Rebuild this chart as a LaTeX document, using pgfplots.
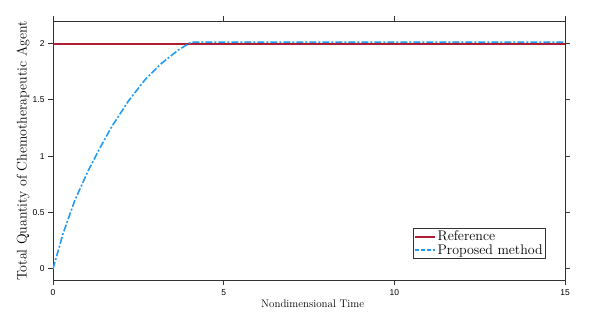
\documentclass[border=0pt]{standalone}
\usepackage{fontspec}
\setsansfont{Liberation Sans}
\usepackage{pgfplots}
\pgfplotsset{compat=1.18}
\definecolor{myred}{RGB}{175,30,50}
\definecolor{myblue}{RGB}{35,155,245}
\begin{document}
\begin{tikzpicture}
\path[use as bounding box] (-53bp,-37bp) rectangle (536bp,280bp);
\begin{axis}[
  scale only axis,
  width=512bp, height=259bp,
  xmin=0, xmax=15, ymin=-0.1, ymax=2.2,
  xtick={0,5,10,15}, ytick={0,0.5,1,1.5,2},
  yticklabels={0,0.5,1,1.5,2},
  tick align=outside,
  major tick length=5bp,
  axis line style={draw=black!80, line width=0.8bp},
  every tick/.style={draw=black!80, line width=0.8bp},
  /pgf/number format/assume math mode=true,
  tick label style={font=\sffamily\fontsize{8.5}{9}\selectfont},
  xticklabel style={yshift=-1bp},
  xlabel={Nondimensional Time},
  ylabel={Total Quantity of Chemotherapeutic Agent},
  xlabel style={font=\fontsize{11}{12}\selectfont, at={(axis description cs:0.507,-0.0927)}, anchor=center},
  ylabel style={font=\fontsize{14}{15}\selectfont, at={(axis description cs:-0.0586,0.498)}, anchor=center, rotate=0},
  legend style={at={(0.963,0.081)}, anchor=south east, font=\fontsize{14}{15}\selectfont,
    draw=black!80, line width=0.8bp, inner xsep=1bp, inner ysep=1bp, row sep=-2bp},
  legend cell align=left,
]
\addplot[draw=myred, line width=2bp, legend image code/.code={\draw[color=myred, line width=1.5bp] (0bp,0bp) -- (20bp,0bp);}] coordinates {(0,2) (15,2)};
\addlegendentry{Reference}
\addplot[draw=myblue, line width=1.6bp, dash pattern=on 7bp off 2bp on 2bp off 2bp,
  legend image code/.code={\draw[color=myblue, line width=1.3bp, dash pattern=on 4bp off 2bp] (0bp,0bp) -- (20bp,0bp);}] coordinates {
(0,0) (0.3,0.317) (0.645,0.612) (1.03,0.87) (1.38,1.075) (1.72,1.262)
(2.21,1.49) (2.70,1.68) (3.18,1.824) (3.67,1.942) (4.05,2.013) (15,2.013)};
\addlegendentry{Proposed method}
\end{axis}
\end{tikzpicture}
\end{document}
